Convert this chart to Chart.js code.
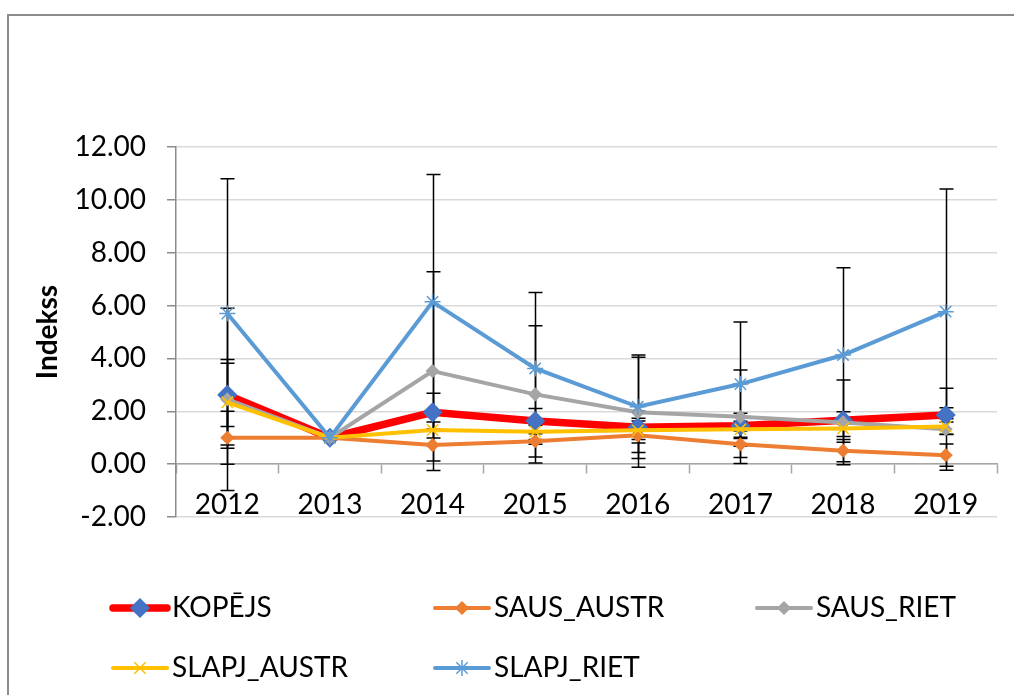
<!DOCTYPE html>
<html>
<head>
<meta charset="utf-8">
<script src="https://cdn.jsdelivr.net/npm/chart.js@4"></script>
<style>
  body { margin: 0; background: #fff; }
  #wrap { position: relative; width: 1014px; height: 695px; }
</style>
</head>
<body>
<div id="wrap"><canvas id="indexChart" width="1014" height="695"></canvas></div>
<script>
// gadi un sērijas
var years = ['2012', '2013', '2014', '2015', '2016', '2017', '2018', '2019'];
var yTicks = [-2, 0, 2, 4, 6, 8, 10, 12];

var kopejs = [2.62, 1.00, 1.96, 1.63, 1.40, 1.45, 1.66, 1.86];
var kopejsErr = [1.20, 0, 0.72, 0.48, 0.60, 0.48, 0.32, 0.27];

var sausAustr = [1.00, 1.00, 0.72, 0.87, 1.09, 0.75, 0.51, 0.34];
var sausAustrErr = [1.00, 0, 0.60, 0.60, 0.65, 0.50, 0.42, 0.42];

var sausRiet = [2.45, 1.00, 3.52, 2.64, 1.96, 1.79, 1.58, 1.32];
var sausRietErr = [3.45, 0, 3.76, 2.60, 2.08, 1.77, 1.60, 1.55];

var slapjAustr = [2.34, 1.00, 1.29, 1.23, 1.28, 1.32, 1.35, 1.42];
var slapjAustrErr = [1.62, 0, 0.30, 0.30, 0.35, 0.30, 0.30, 0.30];

var slapjRiet = [5.70, 1.00, 6.14, 3.62, 2.17, 3.03, 4.13, 5.77];
var slapjRietErr = [5.10, 0, 4.82, 2.87, 1.96, 2.35, 3.30, 4.64];

var fontName = "Lato, 'Open Sans', sans-serif";

// kļūdu stabiņi (zem līnijām)
var errorBars = {
    id: 'errorBars',
    beforeDatasetsDraw: function (chart) {
        var ctx = chart.ctx;
        var xs = chart.scales.x, ys = chart.scales.y;
        ctx.save();
        ctx.strokeStyle = '#000';
        ctx.lineWidth = 1.5;
        chart.data.datasets.forEach(function (ds) {
            ds.errors.forEach(function (e, j) {
                if (!e) return;
                var px = Math.round(xs.getPixelForValue(j)) + 0.5;
                var top = ys.getPixelForValue(ds.data[j] + e);
                var bot = ys.getPixelForValue(ds.data[j] - e);
                ctx.beginPath();
                ctx.moveTo(px, top); ctx.lineTo(px, bot);
                ctx.moveTo(px - 7, top); ctx.lineTo(px + 7, top);
                ctx.moveTo(px - 7, bot); ctx.lineTo(px + 7, bot);
                ctx.stroke();
            });
        });
        ctx.restore();
    }
};

// rāmis un leģenda
var frameLegend = {
    id: 'frameLegend',
    afterDraw: function (chart) {
        var ctx = chart.ctx;
        ctx.save();
        ctx.strokeStyle = '#8c8c8c';
        ctx.lineWidth = 2;
        ctx.beginPath();
        ctx.moveTo(8, 695); ctx.lineTo(8, 15); ctx.lineTo(1014, 15);
        ctx.stroke();

        var spots = [[113, 608], [435, 608], [757, 608], [113, 668], [435, 668]];
        chart.data.datasets.forEach(function (ds, i) {
            var x0 = spots[i][0], y0 = spots[i][1];
            ctx.strokeStyle = ds.borderColor;
            ctx.lineWidth = ds.borderWidth;
            ctx.lineCap = 'round';
            ctx.beginPath();
            ctx.moveTo(x0, y0); ctx.lineTo(x0 + 54, y0);
            ctx.stroke();

            ctx.lineCap = 'butt';
            ctx.fillStyle = ds.pointBackgroundColor;
            ctx.strokeStyle = ds.pointBorderColor;
            ctx.lineWidth = ds.pointBorderWidth;
            Chart.helpers.drawPoint(ctx, {
                pointStyle: ds.pointStyle,
                radius: ds.pointRadius,
                borderWidth: ds.pointBorderWidth,
                rotation: 0
            }, x0 + 27, y0);

            ctx.fillStyle = '#000';
            ctx.font = '28px ' + fontName;
            ctx.textBaseline = 'middle';
            ctx.fillText(ds.label, x0 + 59, y0);
        });
        ctx.restore();
    }
};

function series(label, data, errs, line, lineW, mark, markStyle, markR, order) {
    return {
        label: label,
        data: data,
        errors: errs,
        borderColor: line,
        borderWidth: lineW,
        backgroundColor: mark,
        pointBackgroundColor: mark,
        pointBorderColor: mark,
        pointBorderWidth: 1.5,
        pointStyle: markStyle,
        pointRadius: markR,
        pointHoverRadius: markR,
        tension: 0,
        order: order
    };
}

new Chart(document.getElementById('indexChart').getContext('2d'), {
    type: 'line',
    data: {
        labels: years,
        datasets: [
            series('KOPĒJS', kopejs, kopejsErr, '#FF0000', 7.5, '#4472C4', 'rectRot', 9, 5),
            series('SAUS_AUSTR', sausAustr, sausAustrErr, '#ED7D31', 4, '#ED7D31', 'rectRot', 6, 4),
            series('SAUS_RIET', sausRiet, sausRietErr, '#A5A5A5', 4, '#A5A5A5', 'rectRot', 6, 3),
            series('SLAPJ_AUSTR', slapjAustr, slapjAustrErr, '#FFC000', 4, '#FFC000', 'crossRot', 8, 2),
            series('SLAPJ_RIET', slapjRiet, slapjRietErr, '#5B9BD5', 4, '#5B9BD5', 'star', 8, 1)
        ]
    },
    options: {
        responsive: false,
        animation: false,
        layout: { padding: { left: 0, right: 17, top: 147, bottom: 178 } },
        plugins: {
            legend: { display: false },
            tooltip: { enabled: false }
        },
        scales: {
            x: {
                position: { y: 0 },
                offset: true,
                afterFit: function (scale) { scale.height = 0; },
                grid: {
                    offset: true,
                    drawOnChartArea: false,
                    drawTicks: true,
                    tickLength: 9,
                    tickColor: '#a6a6a6',
                    tickWidth: 1.5
                },
                border: { display: true, color: '#a6a6a6', width: 1.5 },
                ticks: {
                    color: '#000',
                    padding: 15,
                    maxRotation: 0,
                    font: { family: fontName, size: 28 }
                }
            },
            y: {
                min: -2,
                max: 12,
                afterFit: function (scale) { scale.width = 176; },
                afterBuildTicks: function (scale) {
                    scale.ticks = yTicks.map(function (v) { return { value: v }; });
                },
                grid: {
                    color: '#d9d9d9',
                    lineWidth: 1.5,
                    tickLength: 9,
                    tickColor: '#8c8c8c',
                    tickWidth: 1.5
                },
                border: { display: true, color: '#8c8c8c', width: 1.5 },
                ticks: {
                    color: '#000',
                    padding: 21,
                    font: { family: fontName, size: 28 },
                    callback: function (v) { return Number(v).toFixed(2); }
                },
                title: {
                    display: true,
                    text: 'Indekss',
                    color: '#000',
                    padding: { top: 31, bottom: 0 },
                    font: { family: fontName, size: 28, weight: 'bold' }
                }
            }
        }
    },
    plugins: [errorBars, frameLegend]
});
</script>
</body>
</html>
